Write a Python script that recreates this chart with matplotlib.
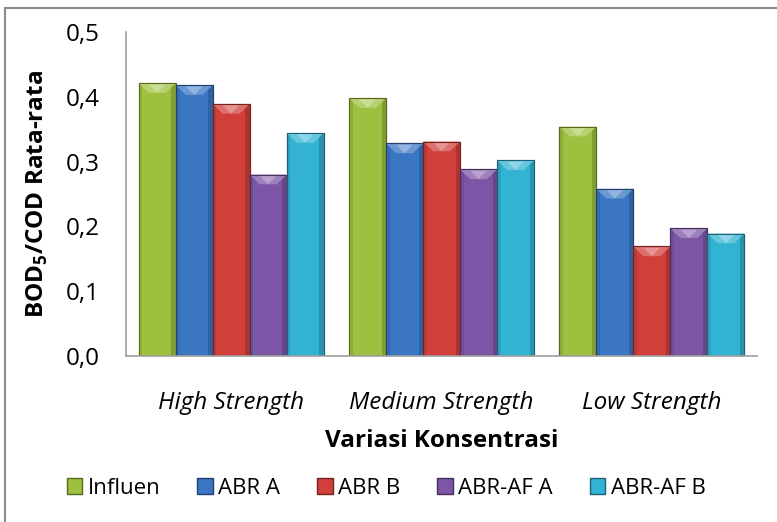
import numpy as np
import matplotlib
matplotlib.use("Agg")
import matplotlib.pyplot as plt
from matplotlib.patches import Polygon, Rectangle
from matplotlib.colors import to_rgb

plt.rcParams['font.family'] = ['Open Sans', 'DejaVu Sans']
plt.rcParams['mathtext.fontset'] = 'custom'
plt.rcParams['mathtext.bf'] = 'Open Sans:bold'
plt.rcParams['mathtext.rm'] = 'Open Sans'

kategori = ["High Strength", "Medium Strength", "Low Strength"]
seri = ["Influen", "ABR A", "ABR B", "ABR-AF A", "ABR-AF B"]
influen = [0.421, 0.398, 0.354]
abr_a = [0.418, 0.328, 0.258]
abr_b = [0.389, 0.331, 0.169]
abr_af_a = [0.280, 0.288, 0.197]
abr_af_b = [0.344, 0.302, 0.189]
nilai = [influen, abr_a, abr_b, abr_af_a, abr_af_b]
yticks = [0.0, 0.1, 0.2, 0.3, 0.4, 0.5]

warna = ["#9dc13e", "#3b76c3", "#d13f3b", "#7d55a7", "#32b3d3"]
FS = 17.5


def gelap(c, f=0.55):
    r, g, b = to_rgb(c)
    return (r * f, g * f, b * f)


def terang(c, f=0.35):
    r, g, b = to_rgb(c)
    return (r + (1 - r) * f, g + (1 - g) * f, b + (1 - b) * f)


fig = plt.figure(figsize=(7.77, 5.22), dpi=100)
ax = fig.add_axes([126 / 777, 1 - 356 / 522, (757 - 126) / 777, (356 - 32) / 522])

x = np.arange(len(kategori))
lebar = 0.176
for i, (nama, val) in enumerate(zip(seri, nilai)):
    bars = ax.bar(x + (i - 2) * lebar, val, lebar, color=warna[i],
                  edgecolor=gelap(warna[i]), linewidth=0.8, label=nama, zorder=2)
    # efek bevel di bagian atas dan sisi batang
    for b in bars:
        x0, w, h = b.get_x(), b.get_width(), b.get_height()
        d = 0.048
        dy = 0.015
        ax.add_patch(Rectangle((x0, 0), w * 0.1, h, facecolor=gelap(warna[i], 0.9),
                               edgecolor='none', zorder=3))
        ax.add_patch(Rectangle((x0 + w * 0.88, 0), w * 0.12, h,
                               facecolor=gelap(warna[i], 0.82), edgecolor='none', zorder=3))
        ax.add_patch(Polygon([(x0, h), (x0 + w, h), (x0 + w - d, h - dy), (x0 + d, h - dy)],
                             closed=True, facecolor=terang(warna[i], 0.25),
                             edgecolor='none', zorder=4))
        ax.add_patch(Polygon([(x0 + d, h - 0.002), (x0 + w - d, h - 0.002), (x0 + w / 2, h - dy)],
                             closed=True, facecolor=terang(warna[i], 0.45),
                             edgecolor='none', zorder=4))
        ax.add_patch(Rectangle((x0, 0), w, h, fill=False, edgecolor=gelap(warna[i]),
                               linewidth=0.8, zorder=5))

ax.set_xlim(-0.5, 2.5)
ax.set_ylim(0, 0.5)
ax.set_yticks(yticks)
ax.set_yticklabels([f"{v:.1f}".replace('.', ',') for v in yticks], fontsize=FS)
ax.set_xticks(x)
ax.set_xticklabels(kategori, fontsize=FS, style='italic')
ax.tick_params(axis='y', length=0, pad=19)
ax.tick_params(axis='x', length=0, pad=25)
for s in ['top', 'right']:
    ax.spines[s].set_visible(False)
for s in ['left', 'bottom']:
    ax.spines[s].set_color('#a0a0a0')
    ax.spines[s].set_linewidth(1.2)
    ax.spines[s].set_zorder(6)

ax.set_ylabel(r'BOD$_\mathbf{5}$/COD Rata-rata', fontsize=FS, fontweight='bold', labelpad=11)
ax.set_xlabel('Variasi Konsentrasi', fontsize=FS, fontweight='bold', labelpad=10)

handles = [Rectangle((0, 0), 1, 1, facecolor=c, edgecolor=gelap(c)) for c in warna]
fig.legend(handles, seri, loc='center', bbox_to_anchor=(0.497, 1 - 488 / 522), ncol=5,
           frameon=False, fontsize=16, handlelength=0.7, handleheight=0.7,
           handletextpad=0.25, columnspacing=1.65)

# bingkai luar grafik
fig.add_artist(Rectangle((5 / 777, -0.1), 1.2, 1 - 8 / 522 + 0.1, transform=fig.transFigure,
                         fill=False, edgecolor='#8c8c8c', linewidth=1.5))

fig.savefig('out.png', dpi=100)
